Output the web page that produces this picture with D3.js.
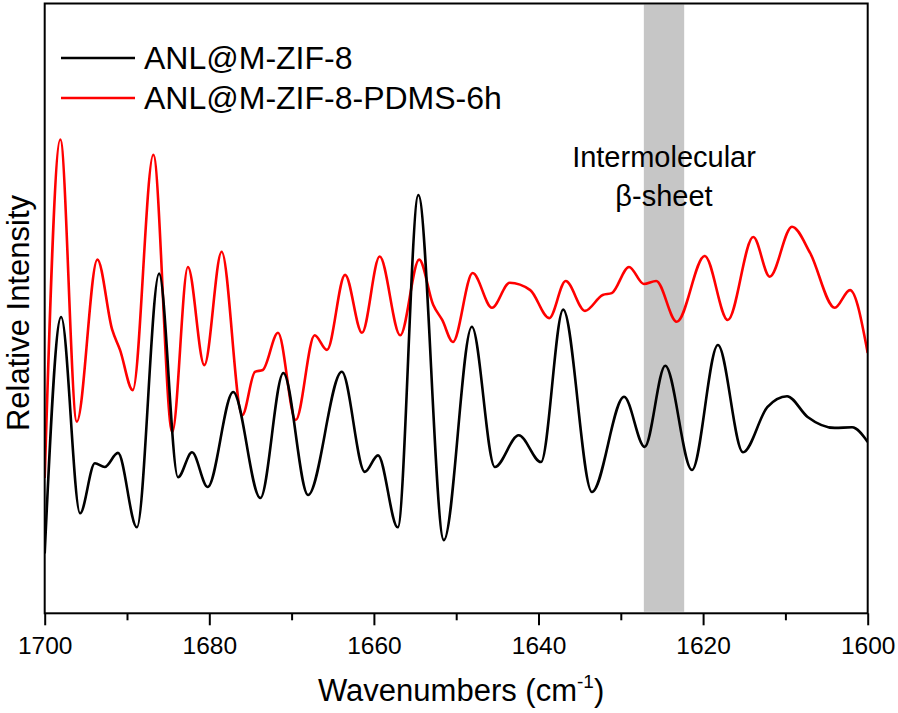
<!DOCTYPE html>
<html>
<head>
<meta charset="utf-8">
<script src="https://cdn.jsdelivr.net/npm/d3@7"></script>
<style>
  html, body { margin: 0; padding: 0; background: #ffffff; }
  svg { display: block; font-family: "Liberation Sans", Arial, sans-serif; }
</style>
</head>
<body>
<svg id="chart" width="898" height="713"></svg>
<script>
// ---- Data (intensity in arbitrary units) ----
const seriesNames = ["ANL@M-ZIF-8", "ANL@M-ZIF-8-PDMS-6h"];
const seriesColors = ["#000000", "#ff0000"];

const blackWavenumbers = [1700.0, 1698.0, 1695.7, 1693.9, 1692.7, 1691.1, 1688.8, 1686.1, 1683.8, 1682.1,
  1680.2, 1677.1, 1673.8, 1671.0, 1668.0, 1663.9, 1661.1, 1659.5, 1657.1, 1654.6,
  1651.5, 1648.1, 1645.3, 1642.4, 1639.7, 1637.0, 1633.5, 1629.6, 1627.1, 1624.6,
  1621.35, 1618.2, 1615.15, 1612.2, 1609.8, 1607.3, 1604.0, 1601.9, 1600.0];
const blackIntensity = [9.8, 48.6, 16.4, 24.6, 24.0, 26.3, 14.1, 55.7, 22.3, 26.4,
  20.7, 36.3, 18.9, 39.4, 19.4, 39.6, 23.2, 25.9, 14.1, 68.6,
  12.0, 47.0, 24.0, 29.2, 24.8, 49.8, 19.9, 35.5, 27.3, 40.6,
  23.5, 44.0, 26.4, 33.8, 35.6, 32.2, 30.4, 30.5, 28.1];

const redWavenumbers = [1700.0, 1698.1, 1696.1, 1693.6, 1691.8, 1690.85, 1689.3, 1686.8, 1684.5, 1682.6,
  1680.6, 1678.5, 1676.0, 1674.45, 1673.5, 1671.65, 1669.5, 1667.2, 1665.7, 1663.5,
  1661.45, 1659.3, 1656.8, 1654.5, 1652.8, 1651.7, 1650.4, 1648.0, 1645.65, 1643.5,
  1641.0, 1638.7, 1636.7, 1634.35, 1632.2, 1631.1, 1629.0, 1627.2, 1625.7, 1623.2,
  1619.8, 1617.0, 1613.9, 1611.9, 1609.2, 1607.0, 1604.0, 1602.15, 1600.0];
const redIntensity = [22.2, 77.7, 31.4, 58.0, 46.5, 43.2, 36.6, 75.2, 29.7, 56.8,
  40.7, 59.3, 32.5, 39.6, 39.9, 46.0, 31.7, 45.6, 43.2, 55.5,
  46.0, 58.5, 45.6, 58.0, 50.6, 48.1, 44.5, 55.8, 50.1, 54.2,
  53.0, 48.4, 54.5, 49.6, 52.2, 52.5, 56.8, 54.0, 54.5, 47.8,
  58.6, 48.1, 61.7, 55.2, 63.4, 59.1, 50.1, 53.0, 42.7];

const majorTicks = [1700, 1680, 1660, 1640, 1620, 1600];
const minorTicks = [1690, 1670, 1650, 1630, 1610];
const bandRange = [1627.2, 1622.3];
const bandLabel = ["Intermolecular", "\u03B2-sheet"];
const xTitle = "Wavenumbers (cm";
const xTitleSup = "-1";
const yTitle = "Relative Intensity";

// ---- Layout ----
const svg = d3.select("#chart");
const pLeft = 44.7, pRight = 867.7, pTop = 3.5, pBottom = 613.3;

const x = d3.scaleLinear().domain([1700, 1600]).range([pLeft, pRight]);
const y = d3.scaleLinear().domain([0, 100]).range([pBottom, pTop]);

svg.append("defs").append("clipPath").attr("id", "clip")
  .append("rect").attr("x", pLeft).attr("y", pTop)
  .attr("width", pRight - pLeft).attr("height", pBottom - pTop);

// gray band
svg.append("rect")
  .attr("x", x(bandRange[0]))
  .attr("y", pTop + 1)
  .attr("width", x(bandRange[1]) - x(bandRange[0]))
  .attr("height", pBottom - pTop - 2.5)
  .attr("fill", "#c6c6c6");

// band label
const bandCenter = x((bandRange[0] + bandRange[1]) / 2);
svg.append("text").attr("x", bandCenter).attr("y", 167)
  .attr("text-anchor", "middle").attr("font-size", 29).attr("fill", "#000")
  .text(bandLabel[0]);
svg.append("text").attr("x", bandCenter).attr("y", 206)
  .attr("text-anchor", "middle").attr("font-size", 29).attr("fill", "#000")
  .text(bandLabel[1]);

// curves
const series = [
  blackWavenumbers.map((w, i) => ({ w, v: blackIntensity[i] })),
  redWavenumbers.map((w, i) => ({ w, v: redIntensity[i] }))
];
const line = d3.line().x(d => x(d.w)).y(d => y(d.v)).curve(d3.curveMonotoneX);

const g = svg.append("g").attr("clip-path", "url(#clip)");
[1, 0].forEach(i => {
  g.append("path").datum(series[i])
    .attr("d", line)
    .attr("fill", "none")
    .attr("stroke", seriesColors[i])
    .attr("stroke-width", 2.6)
    .attr("stroke-linejoin", "round");
});

// frame
svg.append("rect").attr("x", pLeft).attr("y", pTop)
  .attr("width", pRight - pLeft).attr("height", pBottom - pTop)
  .attr("fill", "none").attr("stroke", "#000").attr("stroke-width", 2);

// bottom axis with major + minor ticks
const axisMajor = d3.axisBottom(x).tickValues(majorTicks).tickSize(12).tickSizeOuter(0)
  .tickFormat(d3.format("d"));
const axG = svg.append("g").attr("transform", `translate(0,${pBottom})`).call(axisMajor);
axG.select(".domain").remove();
axG.selectAll(".tick line").attr("stroke", "#000").attr("stroke-width", 2);
axG.selectAll(".tick text").attr("font-size", 24.5).attr("fill", "#000")
  .attr("font-family", "'Liberation Sans', Arial, sans-serif").attr("dy", 0).attr("y", 41);

const axisMinor = d3.axisBottom(x).tickValues(minorTicks).tickSize(7).tickFormat("");
const axM = svg.append("g").attr("transform", `translate(0,${pBottom})`).call(axisMinor);
axM.select(".domain").remove();
axM.selectAll(".tick line").attr("stroke", "#000").attr("stroke-width", 2);

// x title
const xt = svg.append("text").attr("x", 318).attr("y", 701)
  .attr("font-size", 31).attr("fill", "#000");
xt.append("tspan").text(xTitle);
xt.append("tspan").attr("font-size", 19).attr("dy", -13).text(xTitleSup);
xt.append("tspan").attr("dy", 13).text(")");

// y title
svg.append("text")
  .attr("transform", `translate(29,313) rotate(-90)`)
  .attr("text-anchor", "middle").attr("font-size", 31).attr("fill", "#000")
  .text(yTitle);

// legend
const legendY = [58, 98];
seriesNames.forEach((name, i) => {
  svg.append("line").attr("x1", 61).attr("x2", 135)
    .attr("y1", legendY[i]).attr("y2", legendY[i])
    .attr("stroke", seriesColors[i]).attr("stroke-width", 2.6);
  svg.append("text").attr("x", 144).attr("y", legendY[i] + 10.5)
    .attr("font-size", 32).attr("fill", "#000").text(name);
});
</script>
</body>
</html>
